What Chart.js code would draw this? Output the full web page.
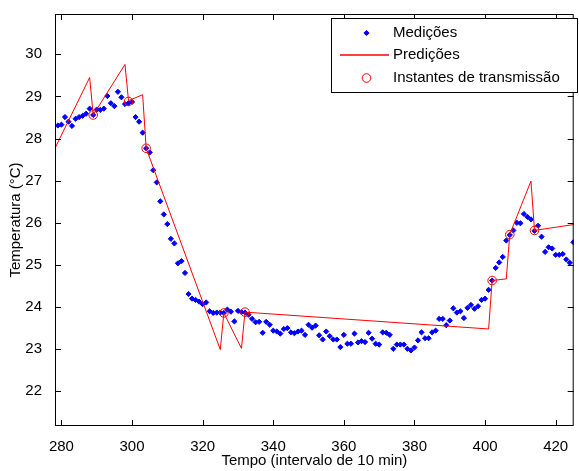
<!DOCTYPE html>
<html>
<head>
<meta charset="utf-8">
<script src="https://cdn.jsdelivr.net/npm/chart.js@4.4.0/dist/chart.umd.min.js"></script>
<style>
  html, body { margin: 0; padding: 0; background: #fff; }
  #wrap { width: 579px; height: 471px; position: relative; }
</style>
</head>
<body>
<div id="wrap"><canvas id="grafico"></canvas></div>
<script>
// Medições: uma amostra por instante (intervalo de 10 min), começando em t = 279
const inicioMedicoes = 279;
const medicoes = [
  28.31, 28.33, 28.51, 28.40, 28.30, 28.47, 28.51, 28.54, 28.59, 28.71,
  28.56, 28.69, 28.68, 28.71, 29.01, 28.84, 28.77, 29.11, 28.98, 28.82,
  28.84, 28.87, 28.51, 28.40, 28.14, 27.77, 27.67, 27.25, 26.96, 26.51,
  26.20, 25.97, 25.62, 25.51, 25.04, 25.09, 24.81, 24.31, 24.20, 24.17,
  24.13, 24.07, 24.11, 23.90, 23.86, 23.87, 23.87, 23.86, 23.94, 23.89,
  23.66, 23.91, 23.88, 23.87, 23.82, 23.72, 23.64, 23.65, 23.39, 23.65,
  23.58, 23.44, 23.42, 23.37, 23.48, 23.50, 23.40, 23.38, 23.42, 23.44,
  23.34, 23.58, 23.51, 23.56, 23.33, 23.23, 23.42, 23.31, 23.23, 23.23,
  23.05, 23.34, 23.13, 23.13, 23.37, 23.16, 23.19, 23.17, 23.39, 23.25,
  23.13, 23.11, 23.40, 23.39, 23.34, 23.01, 23.11, 23.11, 23.11, 23.01,
  22.97, 23.04, 23.21, 23.40, 23.26, 23.26, 23.40, 23.44, 23.72, 23.72,
  23.57, 23.68, 23.97, 23.87, 23.90, 23.74, 23.98, 24.05, 23.96, 24.02,
  24.17, 24.20, 24.41, 24.63, 24.93, 25.06, 25.19, 25.58, 25.71, 25.82,
  26.00, 25.99, 26.21, 26.14, 26.08, 25.81, 25.93, 25.67, 25.31, 25.42,
  25.39, 25.24, 25.24, 25.26, 25.13, 25.05, 25.54
];

// Predições (vértices da linha)
const predTempo   = [278, 288, 289, 298, 299, 303, 304, 325, 326, 331, 332, 401, 402, 406, 407, 413, 414, 426];
const predValores = [27.74, 29.45, 28.56, 29.76, 28.90, 29.04, 27.77, 22.99, 23.86, 23.02, 23.88, 23.48, 24.63, 24.67, 25.73, 26.99, 25.82, 25.97];

// Instantes de transmissão
const transTempo   = [289, 299, 304, 326, 332, 402, 407, 414];
const transValores = [28.56, 28.88, 27.77, 23.86, 23.88, 24.63, 25.72, 25.82];

const xTicks = [280, 300, 320, 340, 360, 380, 400, 420];
const yTicks = [22, 23, 24, 25, 26, 27, 28, 29, 30];

const FONTE = '"Liberation Sans", Arial, sans-serif';
const AZUL = '#0000ff';
const VERMELHO = '#ff0000';

const pontosMedicoes = medicoes.map((v, i) => ({ x: inicioMedicoes + i, y: v }));
const pontosPred = predTempo.map((t, i) => ({ x: t, y: predValores[i] }));
const pontosTrans = transTempo.map((t, i) => ({ x: t, y: transValores[i] }));

// caixa e ticks para dentro, estilo MATLAB, e a legenda no canto
const molduraMatlab = {
  id: 'molduraMatlab',
  afterDraw(chart) {
    const { ctx, chartArea: a, scales } = chart;
    ctx.save();
    ctx.strokeStyle = '#000';
    ctx.lineWidth = 1;
    ctx.beginPath();
    xTicks.forEach(v => {
      const px = Math.round(scales.x.getPixelForValue(v)) + 0.5;
      ctx.moveTo(px, a.bottom); ctx.lineTo(px, a.bottom - 6);
      ctx.moveTo(px, a.top); ctx.lineTo(px, a.top + 6);
    });
    yTicks.forEach(v => {
      const py = Math.round(scales.y.getPixelForValue(v)) + 0.5;
      ctx.moveTo(a.left, py); ctx.lineTo(a.left + 6, py);
      ctx.moveTo(a.right, py); ctx.lineTo(a.right - 6, py);
    });
    ctx.stroke();
    ctx.strokeRect(a.left + 0.5, a.top + 0.5, a.right - a.left - 1, a.bottom - a.top - 1);

    // legenda
    const ds = chart.data.datasets;
    const bx = 331, by = 18, bw = 246, bh = 74;
    ctx.fillStyle = '#fff';
    ctx.fillRect(bx, by, bw, bh);
    ctx.strokeStyle = '#000';
    ctx.strokeRect(bx + 0.5, by + 0.5, bw, bh);
    ctx.font = '15px ' + FONTE;
    ctx.textBaseline = 'middle';
    ctx.textAlign = 'left';
    const linhas = [33, 55, 78];

    // Medições
    ctx.fillStyle = AZUL;
    ctx.strokeStyle = AZUL;
    Chart.helpers.drawPoint(ctx, { pointStyle: 'rectRot', radius: 2.6, rotation: 0, borderWidth: 1 }, 366.5, linhas[0]);
    // Predições
    ctx.strokeStyle = VERMELHO;
    ctx.lineWidth = 1.3;
    ctx.beginPath();
    ctx.moveTo(340, linhas[1]);
    ctx.lineTo(389, linhas[1]);
    ctx.stroke();
    // Instantes de transmissão
    ctx.lineWidth = 1;
    ctx.fillStyle = 'rgba(0,0,0,0)';
    ctx.strokeStyle = VERMELHO;
    Chart.helpers.drawPoint(ctx, { pointStyle: 'circle', radius: 4.3, rotation: 0, borderWidth: 1 }, 366.5, linhas[2]);

    ctx.fillStyle = '#000';
    ds.forEach((d, i) => ctx.fillText(d.label, 393, linhas[i]));
    ctx.restore();
  }
};

new Chart(document.getElementById('grafico'), {
  type: 'scatter',
  data: {
    datasets: [
      {
        label: 'Medições',
        data: pontosMedicoes,
        showLine: false,
        pointStyle: 'rectRot',
        pointRadius: 2.6,
        borderWidth: 1,
        backgroundColor: AZUL,
        borderColor: AZUL,
        order: 3
      },
      {
        label: 'Predições',
        data: pontosPred,
        showLine: true,
        pointRadius: 0,
        borderWidth: 1,
        borderColor: VERMELHO,
        backgroundColor: VERMELHO,
        tension: 0,
        order: 2
      },
      {
        label: 'Instantes de transmissão',
        data: pontosTrans,
        showLine: false,
        pointStyle: 'circle',
        pointRadius: 4.3,
        borderWidth: 1,
        backgroundColor: 'rgba(0,0,0,0)',
        borderColor: VERMELHO,
        order: 1
      }
    ]
  },
  options: {
    responsive: true,
    maintainAspectRatio: false,
    animation: false,
    events: [],
    layout: { padding: { top: 10, right: 0, bottom: 0, left: 0 } },
    plugins: {
      legend: { display: false },
      tooltip: { enabled: false }
    },
    scales: {
      x: {
        type: 'linear',
        min: 278.18,
        max: 425.1,
        grid: { display: false },
        border: { display: false },
        afterBuildTicks: s => { s.ticks = xTicks.map(v => ({ value: v })); },
        afterFit: s => { s.height = 45; },
        ticks: { color: '#000', font: { family: FONTE, size: 15 }, padding: 4, maxRotation: 0 },
        title: {
          display: true,
          text: 'Tempo (intervalo de 10 min)',
          color: '#000',
          font: { family: FONTE, size: 15 },
          padding: { top: 0, bottom: 1 }
        }
      },
      y: {
        type: 'linear',
        min: 21.177,
        max: 30.957,
        grid: { display: false },
        border: { display: false },
        afterBuildTicks: s => { s.ticks = yTicks.map(v => ({ value: v })); },
        afterFit: s => { s.width = 55; },
        ticks: { color: '#000', font: { family: FONTE, size: 15 }, padding: 5 },
        title: {
          display: true,
          text: 'Temperatura (°C)',
          color: '#000',
          font: { family: FONTE, size: 15 },
          padding: { top: 7, bottom: 0 }
        }
      }
    }
  },
  plugins: [molduraMatlab]
});
</script>
</body>
</html>
